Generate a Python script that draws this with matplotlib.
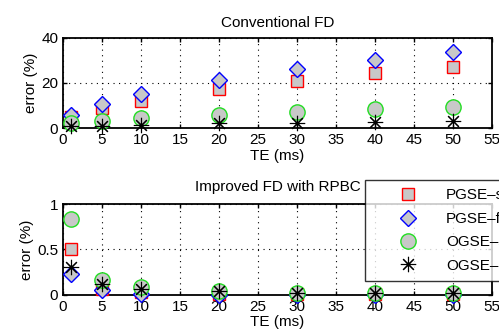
import matplotlib
matplotlib.use("Agg")
import matplotlib.pyplot as plt

plt.rcParams['font.family'] = ['Liberation Sans', 'DejaVu Sans']

te = [1, 5, 10, 20, 30, 40, 50]

# Conventional FD errors (%)
conv_pgse_s = [5.0, 8.8, 12.2, 17.2, 21.0, 24.3, 27.2]
conv_pgse_fi = [5.9, 10.6, 15.0, 21.3, 26.2, 30.1, 33.8]
conv_ogse_s = [2.2, 3.2, 4.4, 5.9, 7.4, 8.4, 9.3]
conv_ogse_c = [1.0, 1.2, 1.5, 2.2, 2.5, 2.9, 3.4]

# Improved FD with RPBC errors (%)
imp_pgse_s = [0.50, 0.07, 0.03, 0.01, 0.01, 0.01, 0.01]
imp_pgse_fi = [0.23, 0.055, 0.01, 0.0, 0.0, 0.0, 0.0]
imp_ogse_s = [0.835, 0.165, 0.085, 0.045, 0.02, 0.02, 0.02]
imp_ogse_c = [0.31, 0.12, 0.065, 0.04, 0.02, 0.02, 0.02]

labels = ['PGSE\u2013short', 'PGSE\u2013finite', 'OGSE\u2013short', 'OGSE\u2013cos']

FS = 11

fig = plt.figure(figsize=(4.99, 3.34), dpi=100)
ax1 = fig.add_axes([0.1263, 0.6159, 0.8597, 0.2712])
ax2 = fig.add_axes([0.1263, 0.1168, 0.8597, 0.2724])

face = '#c8c8c8'
star = (8, 2, 0)

def draw(ax, s1, s2, s3, s4):
    h1, = ax.plot(te, s1, 's', ms=8, mfc=face, mec='red', mew=1.0, ls='none', clip_on=False, zorder=3)
    h2, = ax.plot(te, s2, 'D', ms=8.5, mfc=face, mec='blue', mew=1.0, ls='none', clip_on=False, zorder=4)
    h3, = ax.plot(te, s3, 'o', ms=11, mfc=face, mec='#22dd22', mew=1.0, ls='none', clip_on=False, zorder=5)
    h4, = ax.plot(te, s4, marker=star, ms=11, mfc='black', mec='black', mew=0.8, ls='none', clip_on=False, zorder=6)
    ax.plot(te, s4, '.', ms=3, color='black', ls='none', clip_on=False, zorder=7)
    ax.set_xlim(0, 55)
    ax.set_xticks(range(0, 56, 5))
    ax.grid(True, color='black', linestyle=(0, (1, 4)), linewidth=0.8)
    ax.tick_params(direction='in', length=3, labelsize=FS, top=True, right=True, width=1)
    for sp in ax.spines.values():
        sp.set_linewidth(1.3)
    ax.set_xlabel('TE (ms)', fontsize=FS, labelpad=1)
    ax.set_ylabel('error (%)', fontsize=FS, labelpad=2)
    return [h1, h2, h3, h4]

draw(ax1, conv_pgse_s, conv_pgse_fi, conv_ogse_s, conv_ogse_c)
ax1.set_ylim(0, 40)
ax1.set_yticks([0, 20, 40])
ax1.set_title('Conventional FD', fontsize=FS, pad=8)

hs = draw(ax2, imp_pgse_s, imp_pgse_fi, imp_ogse_s, imp_ogse_c)
ax2.set_ylim(0, 1)
ax2.set_yticks([0, 0.5, 1])
ax2.set_yticklabels(['0', '0.5', '1'])
ax2.set_title('Improved FD with RPBC', fontsize=FS, pad=9.5)

leg = fig.legend(hs, labels, loc='upper left', bbox_to_anchor=(365 / 499, 1 - 180 / 334),
                 fontsize=FS, frameon=True, fancybox=False, edgecolor='black',
                 handlelength=4.5, handletextpad=0.25, labelspacing=0.62, borderpad=0.55,
                 borderaxespad=0)
leg.get_frame().set_linewidth(1.0)
leg.set_zorder(10)

fig.savefig('out.png', dpi=100)
